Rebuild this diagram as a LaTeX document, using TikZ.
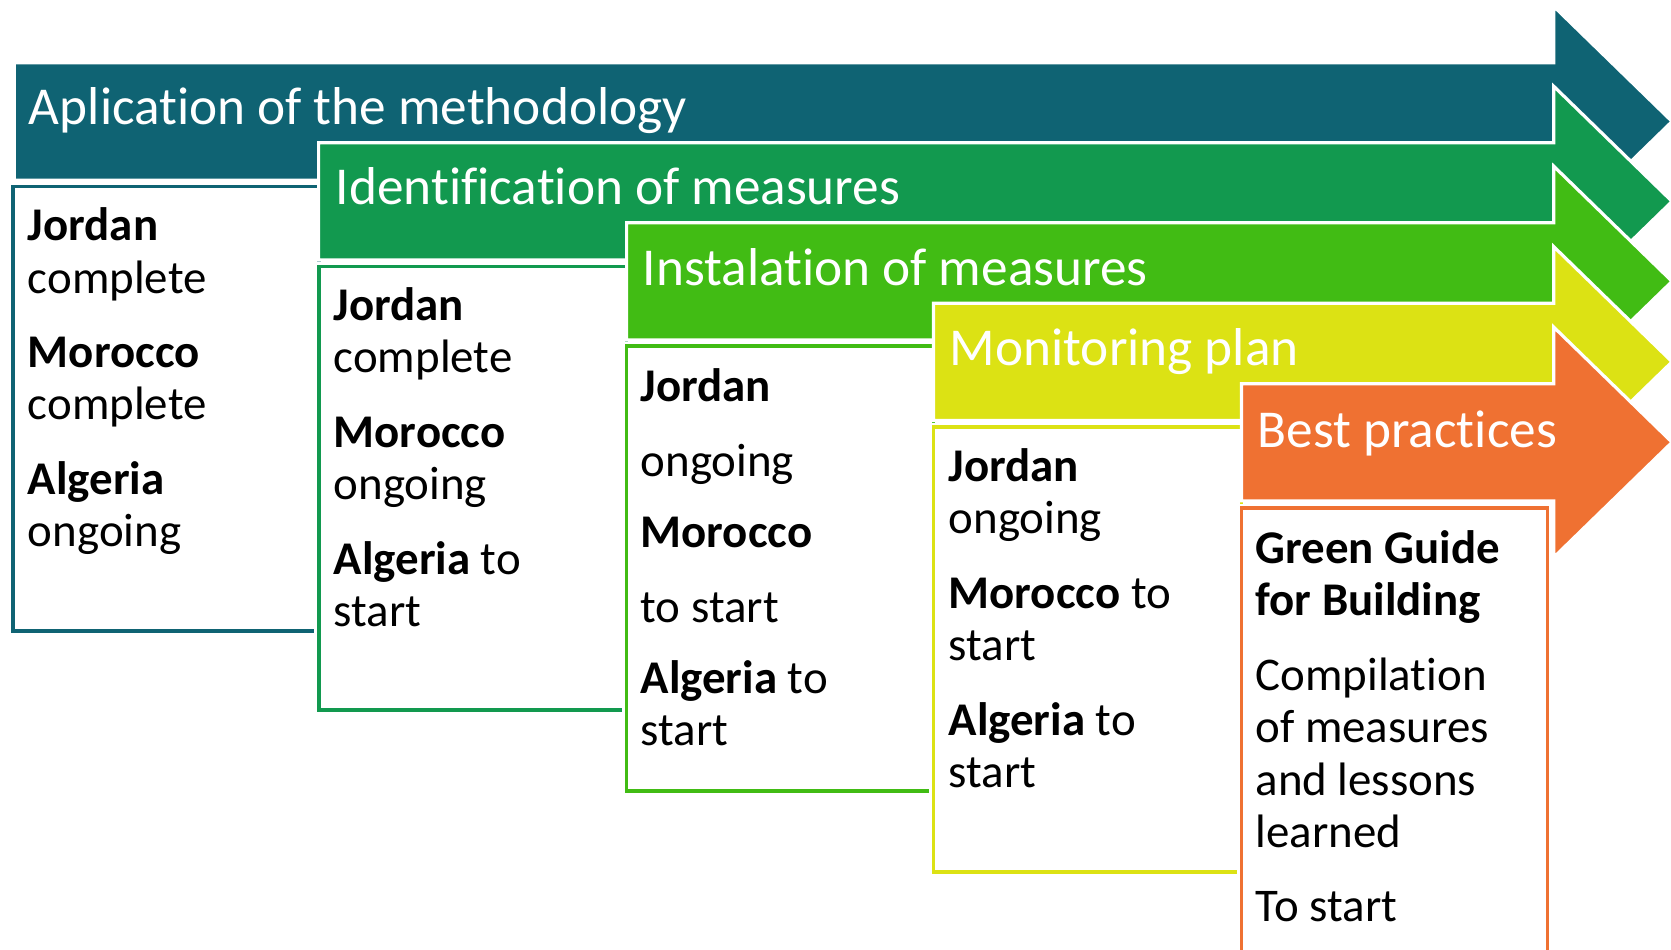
\documentclass[tikz,border=0pt]{standalone}
\usepackage{fontspec}
\setmainfont{Carlito}[Ligatures=NoCommon]
% natural (rigid) word spaces inside the ragged status texts
\newcommand\tightspaces{\spaceskip=0.226em\relax\xspaceskip=0.226em\relax}
\definecolor{stepA}{HTML}{0F6373}
\definecolor{stepB}{HTML}{12994F}
\definecolor{stepC}{HTML}{41BC14}
\definecolor{stepD}{HTML}{DCE214}
\definecolor{stepE}{HTML}{EF7132}
\begin{document}
\begin{tikzpicture}[x=1pt,y=-1pt,
  bigarrow/.style={fill=#1, draw=white, line width=3pt, line join=miter},
  panel/.style={fill=white, draw=#1, line width=3.5pt,
    preaction={draw=white, line width=9pt}},
  headtxt/.style={anchor=base west, inner sep=0pt, text=white,
    font=\fontsize{50}{60}\selectfont},
  bodytxt/.style={anchor=base west, inner sep=0pt, text width=275pt,
    align=left, font=\fontsize{44}{49}\selectfont}]
\useasboundingbox (0,0) rectangle (1568,891);
\clip (0,0) rectangle (1568,891);

% step 1: application of the methodology
\path[bigarrow=stepA] (13.5,59) -- (1458,59) -- (1458,6) -- (1569,114)
  -- (1458,222) -- (1458,169) -- (13.5,169) -- cycle;
\path[panel=stepA] (12,175) rectangle (299,592);

% step 2: identification of measures
\path[bigarrow=stepB] (299,134) -- (1458,134) -- (1458,81) -- (1569,189)
  -- (1458,297) -- (1458,244) -- (299,244) -- cycle;
\path[panel=stepB] (299,250) rectangle (588,666);

% step 3: installation of measures
\path[bigarrow=stepC] (588,209) -- (1458,209) -- (1458,156) -- (1569,264)
  -- (1458,372) -- (1458,319) -- (588,319) -- cycle;
\path[panel=stepC] (588,325) rectangle (876,742);

% step 4: monitoring plan
\path[bigarrow=stepD] (876,284.5) -- (1458,284.5) -- (1458,231.5) -- (1569,339.5)
  -- (1458,447.5) -- (1458,394.5) -- (876,394.5) -- cycle;
\path[panel=stepD] (876,401) rectangle (1165,818);

% step 5: best practices
\path[bigarrow=stepE] (1165,360) -- (1458,360) -- (1458,307) -- (1569,415)
  -- (1458,523) -- (1458,470) -- (1165,470) -- cycle;
\path[panel=stepE] (1165,477) rectangle (1452,960);

% arrow titles
\node[headtxt] (h1) at (27,117) {Aplication of the methodology};
\node[headtxt] (h2) at (315,192) {Identification of measures};
\node[headtxt] (h3) at (603,268) {Instalation of measures};
\node[headtxt] (h4) at (891,343) {Monitoring plan};
\node[headtxt] (h5) at (1180,420) {Best practices};

% status texts
\node[bodytxt] (b1) at (26,226) {\tightspaces\textbf{Jordan}\\ complete\\[21pt]
  \textbf{Morocco}\\ complete\\[21pt] \textbf{Algeria}\\ ongoing};
\node[bodytxt] (b2) at (313,301) {\tightspaces\textbf{Jordan}\\ complete\\[21pt]
  \textbf{Morocco}\\ ongoing\\[21pt] \textbf{Algeria} to\\ start};
\node[bodytxt] (b3) at (601,377) {\tightspaces\textbf{Jordan}\\[21pt] ongoing\\[18pt]
  \textbf{Morocco}\\[21pt] to start\\[18pt] \textbf{Algeria} to\\ start};
\node[bodytxt] (b4) at (890,452) {\tightspaces\textbf{Jordan}\\ ongoing\\[21pt]
  \textbf{Morocco} to\\ start\\[21pt] \textbf{Algeria} to\\ start};
\node[bodytxt] (b5) at (1178,529) {\tightspaces\textbf{Green Guide}\\ \textbf{for Building}\\[21pt]
  Compilation\\ of measures\\ and lessons\\ learned\\[21pt] To start};
\end{tikzpicture}
\end{document}
